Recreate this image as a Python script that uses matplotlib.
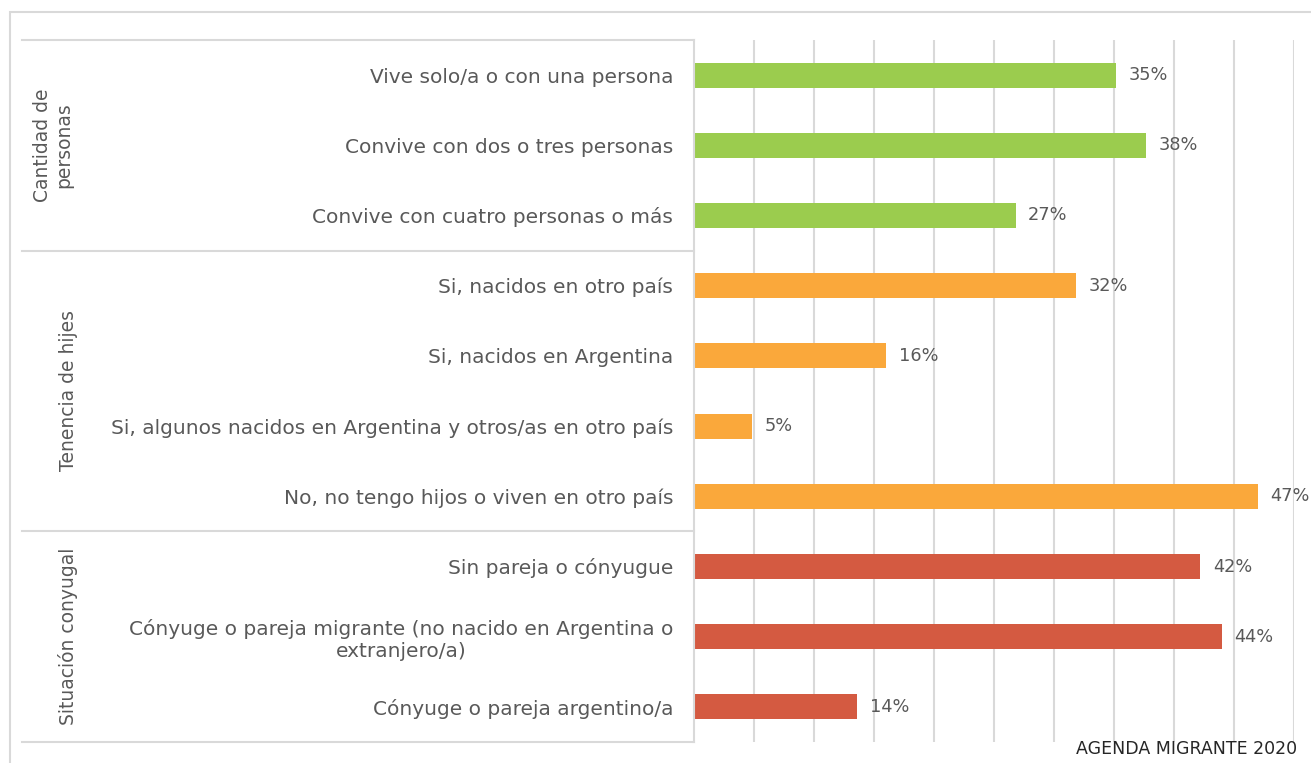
import matplotlib
matplotlib.use("Agg")
import matplotlib.pyplot as plt
from matplotlib.transforms import blended_transform_factory
from matplotlib.patches import Rectangle

# datos
grupos = ["Cantidad de\npersonas", "Tenencia de hijes", "Situación conyugal"]
categorias = [
    "Vive solo/a o con una persona",
    "Convive con dos o tres personas",
    "Convive con cuatro personas o más",
    "Si, nacidos en otro país",
    "Si, nacidos en Argentina",
    "Si, algunos nacidos en Argentina y otros/as en otro país",
    "No, no tengo hijos o viven en otro país",
    "Sin pareja o cónyugue",
    "Cónyuge o pareja migrante (no nacido en Argentina o\nextranjero/a)",
    "Cónyuge o pareja argentino/a",
]
valores = [35.2, 37.7, 26.8, 31.8, 16.0, 4.8, 47.0, 42.2, 44.0, 13.6]
grupo_de = [0, 0, 0, 1, 1, 1, 1, 2, 2, 2]
colores_grupo = ["#9BCC4E", "#FAA83B", "#D45A41"]

W, H = 1311, 763
fig = plt.figure(figsize=(W / 100, H / 100), dpi=100)
plt.rcParams["font.family"] = ["DejaVu Sans"]

texto = "#595959"
linea = "#D9D9D9"

# borde exterior del grafico
fig.patches.append(Rectangle((10 / W, -0.1), 1.2, 1 - 12 / H + 0.1,
                             transform=fig.transFigure, fill=False,
                             edgecolor=linea, lw=1.5))

ax = fig.add_axes([694 / W, 1 - 742 / H, (1294 - 694) / W, (742 - 40) / H])
y = list(range(len(categorias)))
ax.barh(y, valores, height=0.356, color=[colores_grupo[g] for g in grupo_de])

ax.set_xlim(0, 50)
ax.set_ylim(len(categorias) - 0.5, -0.5)
ax.set_xticks(range(5, 51, 5))
ax.xaxis.grid(True, color=linea, lw=1.5)
ax.set_axisbelow(True)
ax.tick_params(axis="x", length=0, labelbottom=False)
ax.tick_params(axis="y", length=0, pad=15)
ax.set_yticks(y)
ax.set_yticklabels(categorias, fontsize=14.5, color=texto, multialignment="center")
for s in ["top", "right", "bottom"]:
    ax.spines[s].set_visible(False)
ax.spines["left"].set_color(linea)
ax.spines["left"].set_linewidth(1.5)

for yi, v in zip(y, valores):
    ax.text(v + 1.05, yi, f"{v:.0f}%", va="center", ha="left", fontsize=12.8, color=texto)

# separadores de grupos y etiquetas de grupo
tr = blended_transform_factory(fig.transFigure, ax.transData)
limites = [-0.5, 2.5, 6.5, 9.5]
for b in limites:
    ax.plot([22 / W, 694 / W], [b, b], color=linea, lw=1.5, transform=tr, clip_on=False)
for i, g in enumerate(grupos):
    yc = (limites[i] + limites[i + 1]) / 2
    xc = 53 if i == 0 else 68
    ax.text(xc / W, yc, g, transform=tr, rotation=90, ha="center", va="center",
            fontsize=13.5, color=texto, multialignment="center")

fig.text(1297 / W, 1 - 749 / H, "AGENDA MIGRANTE 2020", ha="right", va="center",
         fontsize=12.5, color="#262626")

fig.savefig("out.png", dpi=100)
